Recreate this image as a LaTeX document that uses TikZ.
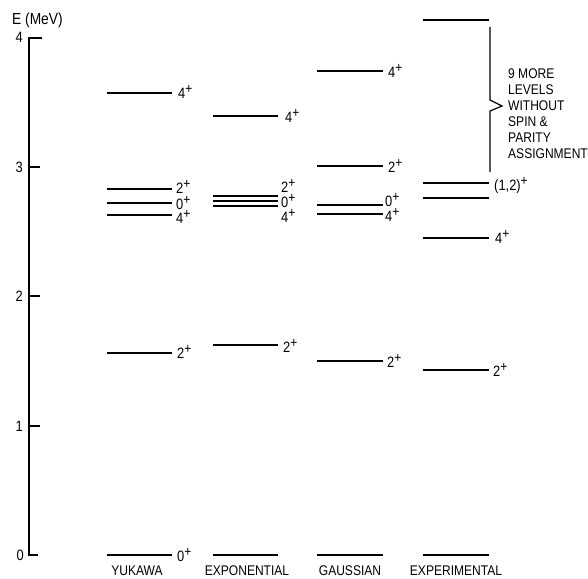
\documentclass[tikz,border=0pt]{standalone}
\usepackage{fontspec}
\setmainfont{Liberation Sans}[FakeStretch=0.86]
\newcommand\plus{\raisebox{5pt}{\fontsize{14}{14}\selectfont +}}
\begin{document}
\begin{tikzpicture}[x=1pt,y=-1pt,
  level/.style={line width=2.2pt},
  lab/.style={anchor=base west, inner sep=0pt, font=\fontsize{15}{16}\selectfont},
  model/.style={anchor=base, inner sep=0pt, font=\fontsize{14}{16}\selectfont},
  axnum/.style={anchor=base east, inner sep=0pt, font=\fontsize{15}{16}\selectfont},
  note/.style={anchor=base west, inner sep=0pt, font=\fontsize{14}{16}\selectfont}]
\useasboundingbox (0,0) rectangle (588,578);
% axis
\draw[line width=2.4pt, line join=miter] (42,38) -- (29,38) -- (29,555) -- (38,555);
\foreach \y in {167,296,426} \draw[line width=1.5pt] (29,\y) -- (40,\y);
\node[anchor=base west, inner sep=0pt, font=\fontsize{16}{18}\selectfont] (ax) at (12,25) {E (MeV)};
\node[axnum] (n4) at (23,43) {4};
\node[axnum] (n3) at (23,172) {3};
\node[axnum] (n2) at (23,301) {2};
\node[axnum] (n1) at (23,431) {1};
\node[axnum] (n0) at (24,560) {0};
% levels
\foreach \y in {93,189,203,215,353,555} \draw[level] (107,\y) -- (172,\y);
\foreach \y in {116,196,201,206,345,555} \draw[level] (213,\y) -- (278,\y);
\foreach \y in {71,166,205,214,361,555} \draw[level] (317,\y) -- (383,\y);
\foreach \y in {20,183,198,238,370,555} \draw[level] (423,\y) -- (489,\y);
% Yukawa labels
\node[lab] (y1) at (178,98) {4\plus};
\node[lab] (y2) at (176,193) {2\plus};
\node[lab] (y3) at (176,209) {0\plus};
\node[lab] (y4) at (176,223) {4\plus};
\node[lab] (y5) at (177,358) {2\plus};
\node[lab] (y6) at (177,561) {0\plus};
% Exponential labels
\node[lab] (e1) at (285,122) {4\plus};
\node[lab] (e2) at (281,192) {2\plus};
\node[lab] (e3) at (281,207) {0\plus};
\node[lab] (e4) at (281,222) {4\plus};
\node[lab] (e5) at (283,352) {2\plus};
% Gaussian labels
\node[lab] (g1) at (388,77) {4\plus};
\node[lab] (g2) at (388,172) {2\plus};
\node[lab] (g3) at (385,206) {0\plus};
\node[lab] (g4) at (385,221) {4\plus};
\node[lab] (g5) at (387,367) {2\plus};
% Experimental labels
\node[lab] (x1) at (494,190) {(1,2)\plus};
\node[lab] (x2) at (495,243) {4\plus};
\node[lab] (x3) at (493,376) {2\plus};
% brace and note
\draw[line width=1.2pt] (490,27) -- (490,100) -- (502,106) -- (490,111) -- (490,172);
\node[note] (t1) at (508,78) {9 MORE};
\node[note] (t2) at (508,94) {LEVELS};
\node[note] (t3) at (508,110) {WITHOUT};
\node[note] (t4) at (508,126) {SPIN \&};
\node[note] (t5) at (508,142) {PARITY};
\node[note] (t6) at (508,158) {ASSIGNMENT};
% model names
\node[model] (m1) at (137,575) {YUKAWA};
\node[model] (m2) at (247,575) {EXPONENTIAL};
\node[model] (m3) at (350,575) {GAUSSIAN};
\node[model] (m4) at (456,575) {EXPERIMENTAL};
\end{tikzpicture}
\end{document}
